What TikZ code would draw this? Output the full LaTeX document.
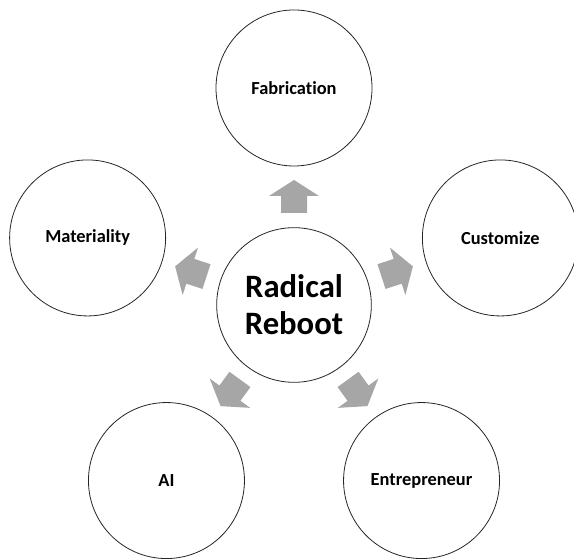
\documentclass[tikz,border=0pt]{standalone}
\usepackage{fontspec}
\setmainfont{Carlito}[Ligatures={NoCommon}]
\usetikzlibrary{calc}
\begin{document}
\begin{tikzpicture}[x=0.75pt,y=0.75pt,
  bubble/.style={circle,draw=black!85,line width=0.6pt,fill=white,minimum size=117pt,inner sep=0pt,font=\bfseries\fontsize{13.8pt}{16pt}\selectfont},
  hub/.style={circle,draw=black!85,line width=0.6pt,fill=white,minimum size=116pt,inner sep=0pt,align=center,font=\bfseries\fontsize{24.5pt}{27.5pt}\selectfont},
  blockarrow/.style={fill=black!35,draw=none}]
\useasboundingbox (0,0) rectangle (574,559);
\coordinate (C) at (294,254);
\node[hub] (hub) at (C) {Radical\\Reboot};
\node[bubble] (fab) at ($(C)+(90:217)$) {Fabrication};
\node[bubble] (mat) at ($(C)+(162:217)$) {Materiality};
\node[bubble] (cus) at ($(C)+(18:217)$) {Customize};
\node[bubble] (ai)  at ($(C)+(234:217)$) {AI};
\node[bubble] (ent) at ($(C)+(306:217)$) {Entrepreneur};
\foreach \a in {90,162,18,234,306}{
  \begin{scope}[shift={(C)},rotate=\a-90]
    \fill[blockarrow] (-13,92) -- (13,92) -- (13,109) -- (25,109) -- (0,125) -- (-25,109) -- (-13,109) -- cycle;
  \end{scope}
}
\end{tikzpicture}
\end{document}
